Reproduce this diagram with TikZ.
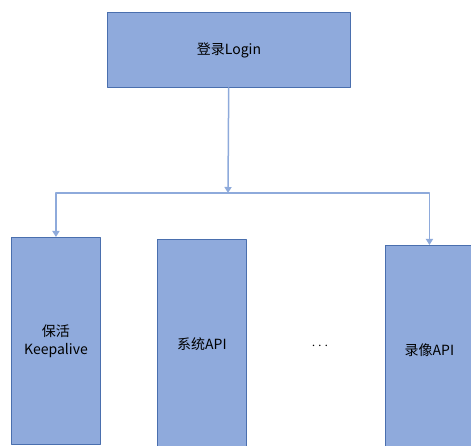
\documentclass[tikz,border=0pt]{standalone}
\usepackage{fontspec}
\setmainfont{Noto Sans CJK SC}
\usetikzlibrary{arrows.meta,positioning}
\definecolor{boxfill}{HTML}{8FAADC}
\definecolor{boxline}{HTML}{4A6FAE}
\definecolor{linkcol}{HTML}{8EAADB}
\tikzset{
  every picture/.append style={line cap=round,line join=round},
  api box/.style={draw=boxline,fill=boxfill,line width=0.9pt,anchor=north west,
    inner sep=0pt,font=\fontsize{14}{18}\selectfont,align=center},
  api link/.style={linkcol,line width=1.5pt,-{Triangle[length=6pt,width=7pt]}},
  api plain/.style={linkcol,line width=1.5pt}
}
\begin{document}
\begin{tikzpicture}[x=1pt,y=-1pt]
\useasboundingbox (0,0) rectangle (471,446);
\clip (0,0) rectangle (471,446);
\node[api box,minimum width=243pt,minimum height=75pt] (login) at (107,12) {登录Login};
\node[api box,minimum width=89pt,minimum height=207pt] (keep) at (11,237) {保活\\Keepalive};
\node[api box,minimum width=89pt,minimum height=210pt] (sys) at (157,239) {系统API};
\node[api box,minimum width=88pt,minimum height=210pt] (rec) at (385,245) {录像API};
\node[font=\fontsize{14}{18}\selectfont] (dots) at (320,346) {$\cdots$};
\coordinate (split) at (228,193);
\draw[api link] (login) -- (split);
\draw[api link] (split) -| (keep.north);
\draw[api link] (split) -| (rec.north);
\end{tikzpicture}
\end{document}
